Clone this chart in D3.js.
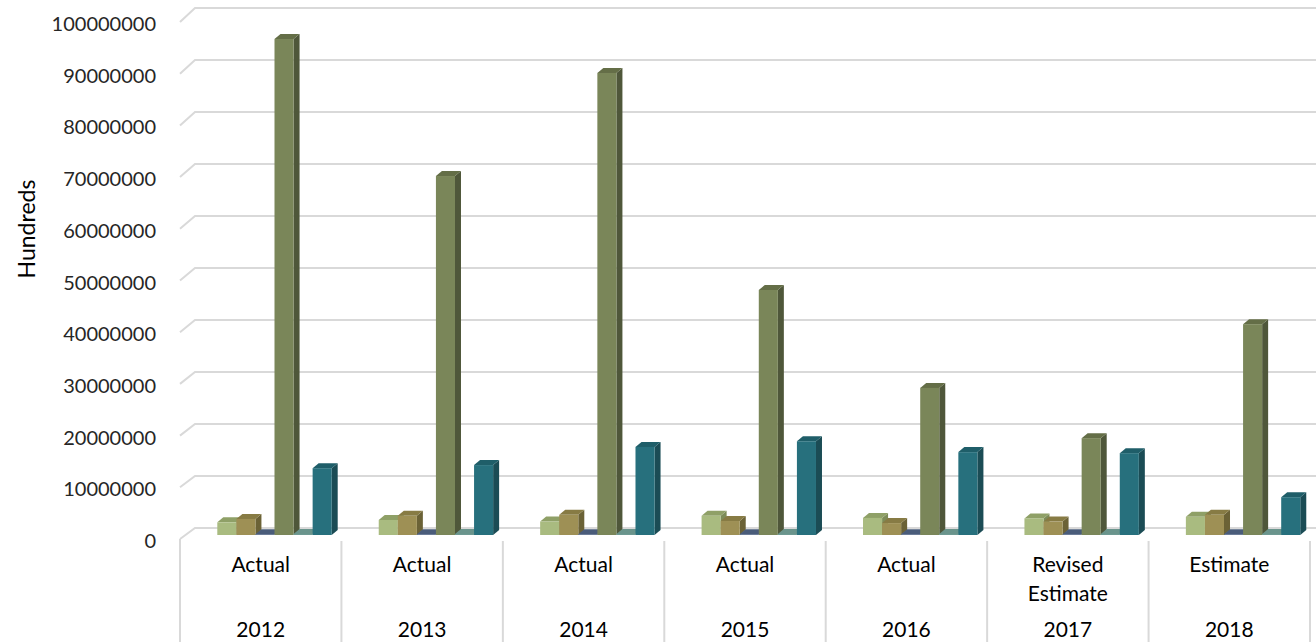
<!DOCTYPE html>
<html><head><meta charset="utf-8">
<script src="https://cdn.jsdelivr.net/npm/d3@7"></script>
<style>
html,body{margin:0;padding:0;background:#fff;}
svg{display:block;font-family:Lato,"Open Sans",sans-serif;}
</style></head>
<body>
<svg id="c" width="1316" height="642"></svg>
<script>
const years = ["2012","2013","2014","2015","2016","2017","2018"];
const kinds = [["Actual"],["Actual"],["Actual"],["Actual"],["Actual"],["Revised","Estimate"],["Estimate"]];
const seriesNames = ["S1","S2","S3","S4","S5","S6"];
const s1 = [2450000, 2900000, 2600000, 3700000, 3300000, 3200000, 3500000];
const s2 = [3100000, 3700000, 3900000, 2700000, 2300000, 2600000, 3900000];
const s3 = [150000, 150000, 150000, 150000, 150000, 150000, 150000];
const s4 = [95750000, 69300000, 89200000, 47300000, 28400000, 18700000, 40700000];
const s5 = [200000, 200000, 200000, 200000, 200000, 200000, 200000];
const s6 = [12900000, 13500000, 17000000, 18100000, 16000000, 15800000, 7300000];
const tickValues = [0,10000000,20000000,30000000,40000000,50000000,60000000,70000000,80000000,90000000,100000000];
const yTitle = "Hundreds";

const series = [s1,s2,s3,s4,s5,s6];
const colors = [
  {front:"#a9bb80", top:"#8fa067", side:"#7d8c58"},
  {front:"#9e9055", top:"#877b44", side:"#6b6236"},
  {front:"#4f6282", top:"#4a5c7a", side:"#3a4a63"},
  {front:"#7a8659", top:"#646e47", side:"#4f573a"},
  {front:"#6f9a93", top:"#6a948c", side:"#557a74"},
  {front:"#27707d", top:"#1f5e69", side:"#1b4c55"}
];

const svg = d3.select("#c");
const yFront = d3.scaleLinear().domain([0,100000000]).range([539,22]);
const yBack  = d3.scaleLinear().domain([0,100000000]).range([528,8]);
const yBar   = d3.scaleLinear().domain([0,100000000]).range([535,17]);
const x0 = d3.scaleBand().domain(years).range([180,1310]).paddingInner(0).paddingOuter(0);
const x1 = d3.scaleBand().domain(seriesNames).range([37.3,151.7]).padding(0);
const DX = 6, DY = 5;
const grid = "#d9d9d9";

// gridlines
const g = svg.append("g");
tickValues.forEach(v=>{
  g.append("path")
   .attr("d", `M180,${yFront(v)} L195,${yBack(v)} L1316,${yBack(v)}`)
   .attr("fill","none").attr("stroke",grid).attr("stroke-width",2);
});
// tick labels
svg.append("g").selectAll("text").data(tickValues).join("text")
  .attr("x",156).attr("y",d=>yFront(d)+1)
  .attr("text-anchor","end").attr("dominant-baseline","central")
  .attr("font-size",20).attr("fill","#262626").text(d=>d3.format("d")(d));

// y title
svg.append("text").attr("transform","translate(26,229) rotate(-90)")
  .attr("text-anchor","middle").attr("dominant-baseline","central")
  .attr("font-size",23).attr("fill","#000").text(yTitle);

// category separators
svg.append("g").selectAll("line").data(d3.range(years.length+1)).join("line")
  .attr("x1",i=> i<years.length ? x0(years[i]) : x0(years[years.length-1])+x0.bandwidth())
  .attr("x2",i=> i<years.length ? x0(years[i]) : x0(years[years.length-1])+x0.bandwidth())
  .attr("y1",i=> i===0?539:541).attr("y2",642)
  .attr("stroke",grid).attr("stroke-width",2);

// bars
const bars = svg.append("g");
years.forEach((yr,ci)=>{
  series.forEach((arr,si)=>{
    const v = arr[ci];
    const x = x0(yr) + x1(seriesNames[si]);
    const w = x1.bandwidth();
    const yt = yBar(v), yb = yBar(0);
    const c = colors[si];
    bars.append("path").attr("d",`M${x+w},${yt} L${x+w+DX},${yt-DY} L${x+w+DX},${yb-DY} L${x+w},${yb} Z`).attr("fill",c.side);
    bars.append("path").attr("d",`M${x},${yt} L${x+DX},${yt-DY} L${x+w+DX},${yt-DY} L${x+w},${yt} Z`).attr("fill",c.top);
    bars.append("rect").attr("x",x).attr("y",yt).attr("width",w).attr("height",Math.max(0,yb-yt)).attr("fill",c.front);
  });
});

// category labels
const lab = svg.append("g");
years.forEach((yr,ci)=>{
  const cx = x0(yr)+x0.bandwidth()/2;
  kinds[ci].forEach((t,li)=>{
    lab.append("text").attr("x",cx).attr("y",563+li*29).attr("text-anchor","middle")
      .attr("dominant-baseline","central").attr("font-size",21).attr("fill","#000").text(t);
  });
  lab.append("text").attr("x",cx).attr("y",628).attr("text-anchor","middle")
    .attr("dominant-baseline","central").attr("font-size",21).attr("fill","#000").text(yr);
});
</script>
</body></html>
